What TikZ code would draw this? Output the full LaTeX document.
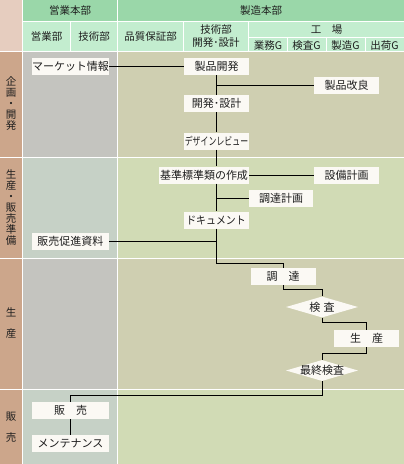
\documentclass[tikz,border=0pt]{standalone}
\usepackage{fontspec}
\setmainfont{Noto Sans CJK JP}
\usetikzlibrary{positioning,shapes.geometric,calc}
\definecolor{mfghead}{HTML}{9AD7A9}
\definecolor{mfgsub}{HTML}{C3EDCF}
\definecolor{mfgstriphead}{HTML}{E6CDBF}
\definecolor{mfgstrip}{HTML}{CCA68B}
\definecolor{mfggrey}{HTML}{C4C4BF}
\definecolor{mfggreygreen}{HTML}{C6D1C6}
\definecolor{mfgkhaki}{HTML}{CFCFB1}
\definecolor{mfggreen}{HTML}{D1DBB5}
\definecolor{mfgboxfill}{HTML}{FBF9F4}
\definecolor{mfgink}{HTML}{1E1E1E}
\tikzset{
  mfg/.style={font=\fontsize{11}{11}\selectfont, text=mfgink},
  mfgbox/.style={fill=mfgboxfill, inner sep=0pt, minimum height=17pt, minimum width=65pt},
  mfgwide/.style={mfgbox, minimum width=77pt},
  mfgchk/.style={shape=diamond, fill=mfgboxfill, inner sep=0pt,
    minimum width=72pt, minimum height=21pt},
  mfgline/.style={line width=1pt, draw=black},
  mfgrule/.style={draw=white, line width=1pt},
  mfghdr/.style={font=\fontsize{10.5}{13.5}\selectfont, text=mfgink, align=center},
  mfgside/.style={font=\fontsize{10.5}{11}\selectfont, text=mfgink, align=center},
}
\newcommand{\mfgdia}[1]{\makebox[0pt]{#1}}
\newcommand{\mfgnarrow}[2]{\scalebox{#1}[1]{#2}}
\begin{document}
\begin{tikzpicture}[mfg, x=1pt, y=-1pt]
  \useasboundingbox (0,0) rectangle (404,464);
  \fill[white] (0,0) rectangle (404,464);
  % header and band fills
  \fill[mfgstriphead] (0,0) rectangle (22,51);
  \fill[mfghead] (23,0) rectangle (404,21);
  \fill[mfgsub] (23,22) rectangle (404,51);
  \fill[mfgstrip] (0,52) rectangle (22,464);
  \foreach \top/\bot/\left/\right in {52/157/mfggrey/mfgkhaki, 157/258/mfggreygreen/mfggreen,
      258/389/mfggrey/mfgkhaki, 389/464/mfggreygreen/mfggreen} {
    \fill[\left] (23,\top) rectangle (117,\bot);
    \fill[\right] (118,\top) rectangle (404,\bot);
  }
  \draw[mfgrule] (22.5,0) -- (22.5,464);
  \draw[mfgrule] (117.5,0) -- (117.5,464);
  \draw[mfgrule] (23,21.5) -- (404,21.5);
  \foreach \y in {51.5,157.5,258.5,389.5}
    \draw[mfgrule] (0,\y) -- (404,\y);
  \foreach \x in {70.5,183,248.5}
    \draw[mfgrule] (\x,22) -- (\x,51);
  \draw[mfgrule] (249,37.5) -- (404,37.5);
  \foreach \x in {287,326,365}
    \draw[mfgrule] (\x,38) -- (\x,51);
  % header texts
  \node[mfghdr] (hsales) at (70,11) {営業本部};
  \node[mfghdr] (hmfg) at (261,11) {製造本部};
  \node[mfghdr] (hsls) at (46.5,36.5) {営業部};
  \node[mfghdr] (htec) at (94,36.5) {技術部};
  \node[mfghdr] (hqa) at (150.5,36.5) {品質保証部};
  \node[mfghdr] (heng) at (216,36) {技術部\\開発･設計};
  \node[mfghdr] (hfac) at (326.5,30) {工　場};
  \node[mfghdr] (hg1) at (268,45.5) {業務G};
  \node[mfghdr] (hg2) at (306.5,45.5) {検査G};
  \node[mfghdr] (hg3) at (345.5,45.5) {製造G};
  \node[mfghdr] (hg4) at (384.5,45.5) {出荷G};
  % phase labels
  \node[mfgside] (plan1) at (11,104) {企\\画\\・\\開\\発};
  \node[mfgside] (plan2) at (11,208) {生\\産\\・\\販\\売\\準\\備};
  \node[mfgside] (plan3) at (11,323) {生\\[10pt]産};
  \node[mfgside] (plan4) at (11,427.5) {販\\[10pt]売};
  % flow
  \node[mfgwide] (mkt) at (70.5,66.5) {マーケット情報};
  \node[mfgbox] (dev) at (216.5,66.5) {製品開発};
  \node[mfgbox] (imp) at (346.5,85) {製品改良};
  \node[mfgbox] (dsgn) at (216.5,103.5) {開発･設計};
  \node[mfgbox] (review) at (216.5,141) {\mfgnarrow{0.72}{デザインレビュー}};
  \node[mfgbox, minimum width=90pt] (std) at (204,175) {基準標準類の作成};
  \node[mfgbox] (equip) at (346.5,175) {設備計画};
  \node[mfgbox, minimum width=64pt] (buyplan) at (281,198.5) {調達計画};
  \node[mfgbox] (doc) at (216,220) {\mfgnarrow{0.9}{ドキュメント}};
  \node[mfgwide] (promo) at (70.5,241.5) {販売促進資料};
  \node[mfgbox] (buy) at (283,276.5) {調　達};
  \node[mfgchk] (insp) at (322,307) {\mfgdia{検\hspace{.3em}査}};
  \node[mfgbox] (prod) at (366.5,338.5) {生　産};
  \node[mfgchk] (final) at (322,370.5) {\mfgdia{最終検査}};
  \node[mfgwide] (sale) at (70.5,410.5) {販　売};
  \node[mfgwide] (maint) at (70.5,443.5) {メンテナンス};
  \draw[mfgline] (mkt.east) -- (dev.west);
  \draw[mfgline] (dev.south) -- (dsgn.north);
  \draw[mfgline] (imp.west) -- (imp.west -| dev.south);
  \draw[mfgline] (dsgn.south) -- (review.north);
  \draw[mfgline] (review.south) -- (review.south |- std.north);
  \draw[mfgline] (std.east) -- (equip.west);
  \draw[mfgline] (doc.north |- std.south) -- (doc.north);
  \draw[mfgline] (buyplan.west) -- (buyplan.west -| doc.north);
  \draw[mfgline] (promo.east) -- (promo.east -| doc.south);
  \draw[mfgline] (doc.south) -- ++(0,34.5) -| (buy.north);
  \draw[mfgline] (buy.south) -- ++(0,4.5) -| (insp.north);
  \draw[mfgline] (insp.south) -- ++(0,5) -| (prod.north);
  \draw[mfgline] (prod.south) -- ++(0,6.5) -| (final.north);
  \draw[mfgline] (final.south) -- ++(0,14) -| (sale.north);
  \draw[mfgline] (sale.south) -- (maint.north);
\end{tikzpicture}
\end{document}
